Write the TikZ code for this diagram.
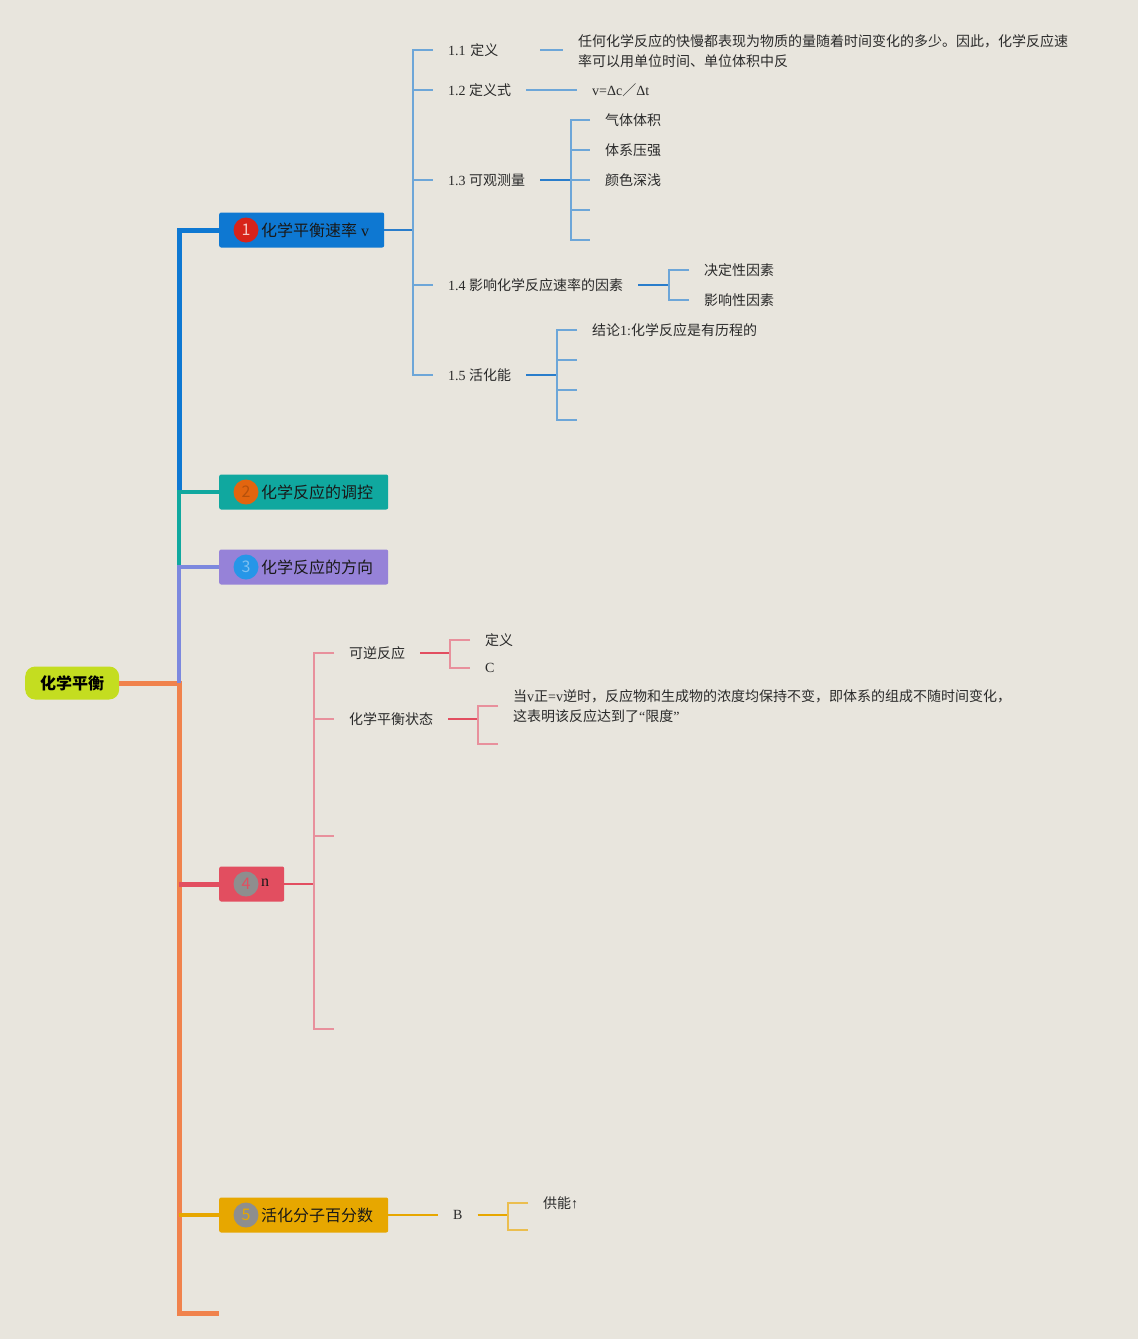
\documentclass[tikz,border=0pt]{standalone}
\usepackage{fontspec}
\setmainfont{Liberation Serif}
\newfontfamily\cjk{Noto Sans CJK SC}
\newcommand\zh[1]{{\cjk #1}}
\usepackage{xcolor}
\definecolor{bg}{HTML}{E8E5DD}
\definecolor{txt}{HTML}{2A2A2A}
\definecolor{cblue}{HTML}{0E78D2}
\definecolor{cred}{HTML}{D8231A}
\definecolor{cteal}{HTML}{10A89F}
\definecolor{corg}{HTML}{E2650F}
\definecolor{cpurple}{HTML}{9682D8}
\definecolor{cpurtr}{HTML}{7C88DE}
\definecolor{cbadge}{HTML}{2696E8}
\definecolor{cpink}{HTML}{E24E60}
\definecolor{cpinkl}{HTML}{E8909C}
\definecolor{cgray}{HTML}{8E8E8E}
\definecolor{camber}{HTML}{E7A700}
\definecolor{camberl}{HTML}{EBBE4F}
\definecolor{corange}{HTML}{F0824C}
\definecolor{croot}{HTML}{C4DD20}
\definecolor{cline}{HTML}{6DA6D8}
\definecolor{cdark}{HTML}{2A7DCB}

\tikzset{
  root/.style={rectangle, rounded corners=10pt, fill=croot, minimum height=33pt, inner xsep=15pt, anchor=west, text=black, font=\cjk\bfseries\fontsize{16}{18}\selectfont},
  topic/.style={rectangle, rounded corners=2pt, minimum height=35pt, inner xsep=15pt, anchor=west, text=black!90, font=\fontsize{16}{18}\selectfont},
  badge/.style={circle, minimum size=25pt, inner sep=0pt, font=\cjk\fontsize{16}{18}\selectfont},
  sub/.style={anchor=west, inner xsep=15pt, inner ysep=2pt, text=txt, font=\fontsize{14}{20}\selectfont},
  leaf/.style={sub, align=left},
  trunk/.style={line width=5pt},
  stub/.style={line width=1.5pt},
}

\begin{document}
\begin{tikzpicture}[x=1pt,y=-1pt,line join=miter]
\fill[bg] (0,0) rectangle (1138,1339);
\useasboundingbox (0,0) rectangle (1138,1339);

% root and main topics
\node[root] (root) at (25,683) {化学平衡};
\node[topic, fill=cblue] (t1) at (219,230) {\hspace*{27pt}\zh{化学平衡速率} v};
\node[topic, fill=cteal] (t2) at (219,492) {\hspace*{27pt}\zh{化学反应的调控}};
\node[topic, fill=cpurple] (t3) at (219,567) {\hspace*{27pt}\zh{化学反应的方向}};
\node[topic, fill=cpink] (t4) at (219,884) {\hspace*{27pt}\raisebox{3pt}{n}};
\node[topic, fill=camber] (t5) at (219,1215) {\hspace*{27pt}\zh{活化分子百分数}};
\node[badge, fill=cred, text=cred!25!white] (n1) at ([xshift=27pt]t1.west) {1};
\node[badge, fill=corg, text=corg!80!black] (n2) at ([xshift=27pt]t2.west) {2};
\node[badge, fill=cbadge, text=cbadge!60!white] (n3) at ([xshift=27pt]t3.west) {3};
\node[badge, fill=cgray, text=cpink] (n4) at ([xshift=27pt]t4.west) {4};
\node[badge, fill=cgray, text=camber] (n5) at ([xshift=27pt]t5.west) {5};

% trunk
\coordinate (j1) at (179,230);
\coordinate (j2) at (179,492);
\coordinate (j3) at (179,567);
\coordinate (j0) at (179,683);
\coordinate (j4) at (179,884);
\coordinate (j5) at (179,1215);
\coordinate (j6) at (179,1313);
\coordinate (tail) at (219,1313);
\draw[trunk, corange] (root.east) -- (j0) -- (j6) -- (tail);
\draw[trunk, cblue] (t1.west) -- (j1) -- (j2);
\draw[line width=4pt, cteal] (t2.west) -- (j2) -- (j3);
\draw[line width=3.5pt, cpurtr] (t3.west) -- (j3) -- (j0);
\draw[trunk, cpink] (j4) -- (t4.west);
\draw[line width=4pt, camber] (j5) -- (t5.west);

% topic 1
\node[sub, text width=77pt] (a1) at (433,50) {1.1 \zh{定义}};
\node[sub] (a2) at (433,90) {1.2 \zh{定义式}};
\node[sub] (a3) at (433,180) {1.3 \zh{可观测量}};
\node[sub] (a4) at (433,285) {1.4 \zh{影响化学反应速率的因素}};
\node[sub] (a5) at (433,375) {1.5 \zh{活化能}};
\coordinate (b1) at (413,230);
\draw[stub, cdark] (t1.east) -- (b1);
\draw[stub, cline] (a1.west) -| (b1) |- (a5.west);
\foreach \n in {a2,a3,a4}
  \draw[stub, cline] (b1 |- \n.west) -- (\n.west);

\node[leaf] (l1) at (563,51) {\zh{任何化学反应的快慢都表现为物质的量随着时间变化的多少。因此，化学反应速}\\\zh{率可以用单位时间、单位体积中反}};
\draw[stub, cline] (a1.east) -- (a1.east -| l1.west);
\node[leaf] (l2) at (577,90) {v=Δc\zh{／}Δt};
\draw[stub, cline] (a2.east) -- (l2.west);

\coordinate (b3) at (571,180);
\node[leaf] (g1) at (590,120) {\zh{气体体积}};
\node[leaf] (g2) at (590,150) {\zh{体系压强}};
\node[leaf] (g3) at (590,180) {\zh{颜色深浅}};
\coordinate (g4) at (590,210);
\coordinate (g5) at (590,240);
\draw[stub, cdark] (a3.east) -- (b3);
\draw[stub, cline] (g1.west) -| (b3) |- (g5);
\foreach \n in {g2,g3}
  \draw[stub, cline] (b3 |- \n.west) -- (\n.west);
\draw[stub, cline] (b3 |- g4) -- (g4);

\coordinate (b4) at (669,285);
\node[leaf] (d1) at (689,270) {\zh{决定性因素}};
\node[leaf] (d2) at (689,300) {\zh{影响性因素}};
\draw[stub, cdark] (a4.east) -- (b4);
\draw[stub, cline] (d1.west) -| (b4) |- (d2.west);

\coordinate (b5) at (557,375);
\node[leaf] (h1) at (577,330) {\zh{结论}1:\zh{化学反应是有历程的}};
\coordinate (h2) at (577,360);
\coordinate (h3) at (577,390);
\coordinate (h4) at (577,420);
\draw[stub, cdark] (a5.east) -- (b5);
\draw[stub, cline] (h1.west) -| (b5) |- (h4);
\foreach \n in {h2,h3}
  \draw[stub, cline] (b5 |- \n) -- (\n);

% topic 4
\coordinate (b6) at (314,884);
\node[sub] (p1) at (334,653) {\zh{可逆反应}};
\node[sub] (p2) at (334,719) {\zh{化学平衡状态}};
\coordinate (p3) at (334,836);
\coordinate (p4) at (334,1029);
\draw[line width=2pt, cpink] (t4.east) -- (b6);
\draw[stub, cpinkl] (p1.west) -| (b6) |- (p4);
\draw[stub, cpinkl] (b6 |- p2.west) -- (p2.west);
\draw[stub, cpinkl] (b6 |- p3) -- (p3);

\coordinate (b7) at (450,653);
\node[leaf] (r1) at (470,640) {\zh{定义}};
\node[leaf] (r2) at (470,668) {C};
\draw[stub, cpink] (p1.east) -- (b7);
\draw[stub, cpinkl] (r1.west) -| (b7) |- (r2.west);

\coordinate (b8) at (478,719);
\node[leaf] (s1) at (498,706) {\zh{当}v\zh{正}=v\zh{逆时，反应物和生成物的浓度均保持不变，即体系的组成不随时间变化，}\\\zh{这表明该反应达到了}“\zh{限度}”};
\coordinate (s2) at (498,744);
\draw[stub, cpink] (p2.east) -- (b8);
\draw[stub, cpinkl] (s1.west) -| (b8) |- (s2);

% topic 5
\node[sub] (q1) at (438,1215) {B};
\draw[line width=1.2pt, camber] (t5.east) -- (q1.west);
\coordinate (b9) at (508,1215);
\node[leaf] (u1) at (528,1203) {\zh{供能}↑};
\coordinate (u2) at (528,1230);
\draw[stub, camber] (q1.east) -- (b9);
\draw[stub, camberl] (u1.west) -| (b9) |- (u2);
\end{tikzpicture}
\end{document}
